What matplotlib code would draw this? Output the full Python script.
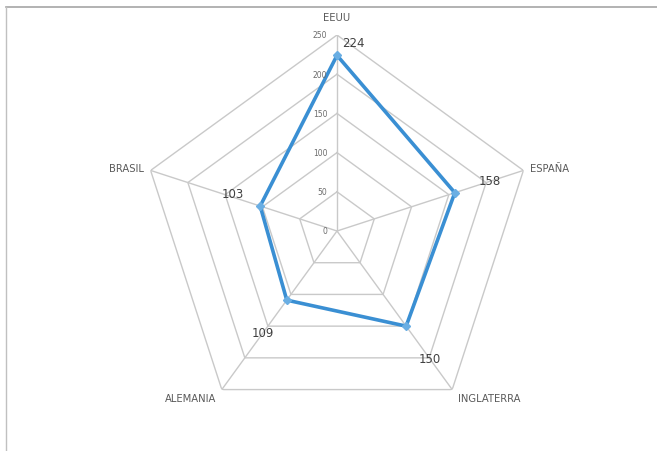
import numpy as np
import matplotlib.pyplot as plt
from matplotlib.lines import Line2D

paises = ["EEUU", "ESPAÑA", "INGLATERRA", "ALEMANIA", "BRASIL"]
valores = [224, 158, 150, 109, 103]
ticks_r = [0, 50, 100, 150, 200, 250]

n = len(paises)
ang = np.linspace(0, 2 * np.pi, n, endpoint=False)
ang_c = np.append(ang, ang[0])

fig = plt.figure(figsize=(6.57, 4.52), dpi=100)
ax = fig.add_axes([141 / 657, 24 / 452, 392 / 657, 392 / 452], projection="polar")
ax.set_theta_offset(np.pi / 2)
ax.set_theta_direction(-1)
ax.set_ylim(0, 250)
ax.axis("off")

grid_col = "#c9c9c9"
for r in ticks_r[1:]:
    ax.plot(ang_c, [r] * (n + 1), color=grid_col, lw=1.0, zorder=1)
for a in ang:
    ax.plot([a, a], [0, 250], color=grid_col, lw=1.0, zorder=1)

v = valores + [valores[0]]
ax.plot(ang_c, v, color="#3a8fd3", lw=2.6, zorder=3)
ax.plot(ang, valores, "D", color="#6aaee3", ms=4, zorder=4)

# radial tick labels
for r in ticks_r:
    ax.annotate(str(r), (0, r), xytext=(-7, 0), textcoords="offset points",
                ha="right", va="center", fontsize=5.5, color="#6b6b6b")

# category labels
txt = "#595959"
cat_off = [(0, 13, "center", "center"), (5, 2, "left", "center"),
           (4, -6, "left", "center"), (-4, -6, "right", "center"),
           (-5, 2, "right", "center")]
for a, p, (dx, dy, ha, va) in zip(ang, paises, cat_off):
    ax.annotate(p, (a, 250), xytext=(dx, dy), textcoords="offset points",
                ha=ha, va=va, fontsize=7.2, color=txt)

# data labels
lab_off = [(12, 9), (25, 9), (17, -23), (-17, -23), (-20, 9)]
for a, val, (dx, dy) in zip(ang, valores, lab_off):
    ax.annotate(str(val), (a, val), xytext=(dx, dy), textcoords="offset points",
                ha="center", va="center", fontsize=8.5, color="#404040")

# frame
fig.add_artist(Line2D([6 / 657, 1], [1 - 8 / 452, 1 - 8 / 452],
                      transform=fig.transFigure, color="#a6a6a6", lw=1.2))
fig.add_artist(Line2D([6 / 657, 6 / 657], [0, 1 - 8 / 452],
                      transform=fig.transFigure, color="#c0c0c0", lw=1.0))

fig.savefig("out.png", dpi=100)
